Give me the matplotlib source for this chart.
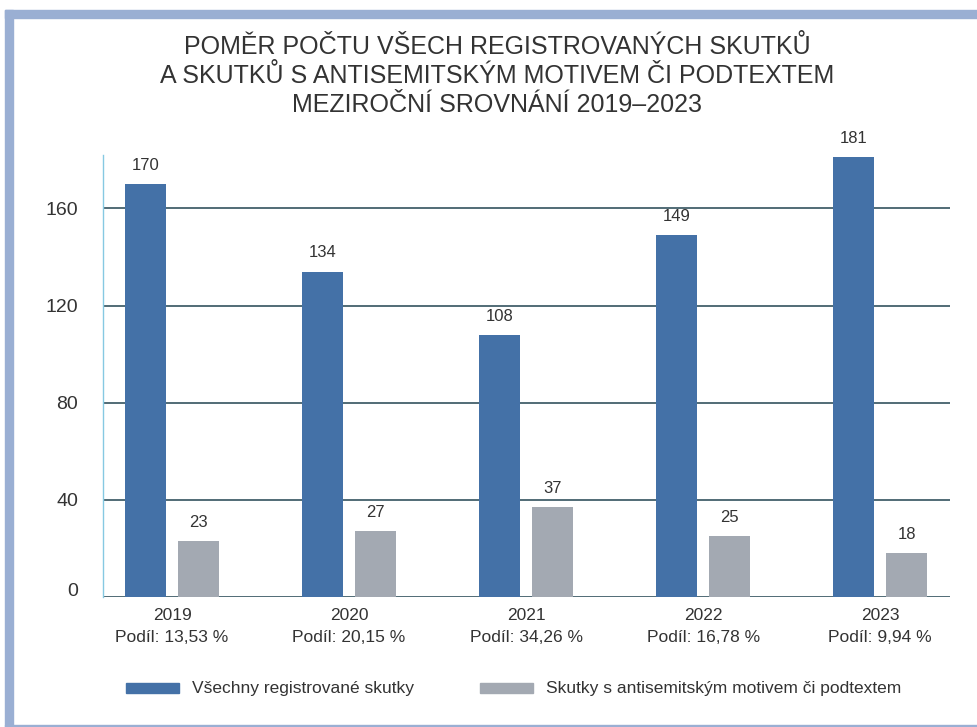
import matplotlib
matplotlib.use("Agg")
import matplotlib.pyplot as plt
from matplotlib.patches import Rectangle
import matplotlib.transforms as mtransforms
import numpy as np

years = ["2019", "2020", "2021", "2022", "2023"]
all_cases = [170, 134, 108, 149, 181]
antisemitic = [23, 27, 37, 25, 18]
shares = ["13,53 %", "20,15 %", "34,26 %", "16,78 %", "9,94 %"]
yticks = [0, 40, 80, 120, 160]
title = ("POMĚR POČTU VŠECH REGISTROVANÝCH SKUTKŮ\n"
         "A SKUTKŮ S ANTISEMITSKÝM MOTIVEM ČI PODTEXTEM\n"
         "MEZIROČNÍ SROVNÁNÍ 2019–2023")
legend_labels = ["Všechny registrované skutky", "Skutky s antisemitským motivem či podtextem"]

BLUE = "#4471a7"
GRAY = "#a3a9b2"
TXT = "#333333"
GRID = "#43606b"
BORDER = "#9aafd3"

plt.rcParams['font.family'] = ['Liberation Sans', 'DejaVu Sans']

W, H = 978, 727
fig = plt.figure(figsize=(W/100, H/100), dpi=100)

# border frame
fig.patches.append(Rectangle((5/W, 0), 8/W, (H-10)/H, transform=fig.transFigure,
                             color=BORDER, zorder=0))
fig.patches.append(Rectangle((5/W, (H-18)/H), (W-5)/W, 8/H, transform=fig.transFigure,
                             color=BORDER, zorder=0))
fig.patches.append(Rectangle((5/W, (H-726)/H), (W-5)/W, 1.5/H, transform=fig.transFigure,
                             color=BORDER, zorder=0))

ax = fig.add_axes([103/W, (H-597)/H, (950-103)/W, (597-155)/H])

x = np.arange(len(years))
bw = 0.2316
off = 0.1497
b1 = ax.bar(x - off, all_cases, bw, color=BLUE, zorder=3)
b2 = ax.bar(x + off, antisemitic, bw, color=GRAY, zorder=3)

for rect, v in zip(list(b1) + list(b2), all_cases + antisemitic):
    ax.annotate(str(v), (rect.get_x() + rect.get_width()/2, rect.get_height()),
                xytext=(0, 8), textcoords="offset points", ha="center", va="bottom",
                fontsize=12, color=TXT)

ax.set_xlim(-0.390, 4.395)
ax.set_ylim(0, 182)
ax.set_yticks(yticks)
ax.set_yticklabels([str(t) for t in yticks], fontsize=14, color=TXT)
ax.tick_params(axis='y', length=0, pad=18)
# baseline label sits slightly above the axis line in the reference
lab0 = ax.get_yticklabels()[0]
lab0.set_transform(lab0.get_transform() +
                   mtransforms.ScaledTranslation(0, 7/100, fig.dpi_scale_trans))
ax.set_xticks(x)
ax.set_xticklabels([f"{y}\nPodíl: {s}" for y, s in zip(years, shares)],
                   fontsize=12.5, color=TXT, linespacing=1.55)
ax.tick_params(axis='x', length=0, pad=8)

for t in yticks:
    ax.axhline(t, color=GRID, lw=1.3, zorder=2)

for s in ["top", "right", "bottom"]:
    ax.spines[s].set_visible(False)
ax.spines["left"].set_color("#86c9e2")
ax.spines["left"].set_linewidth(1)

fig.text(497/W, 1 - 76/H, title, ha="center", va="center", fontsize=18,
         color=TXT, linespacing=1.28)

# legend (manual placement to match reference)
ly = 1 - 688/H
for px, col, lab in [(126, BLUE, legend_labels[0]), (480, GRAY, legend_labels[1])]:
    fig.patches.append(Rectangle((px/W, ly - 5/H), 53/W, 10/H, transform=fig.transFigure,
                                 color=col))
    fig.text((px + 66)/W, ly, lab, ha="left", va="center", fontsize=12.5, color=TXT)

fig.savefig("out.png", dpi=100)
